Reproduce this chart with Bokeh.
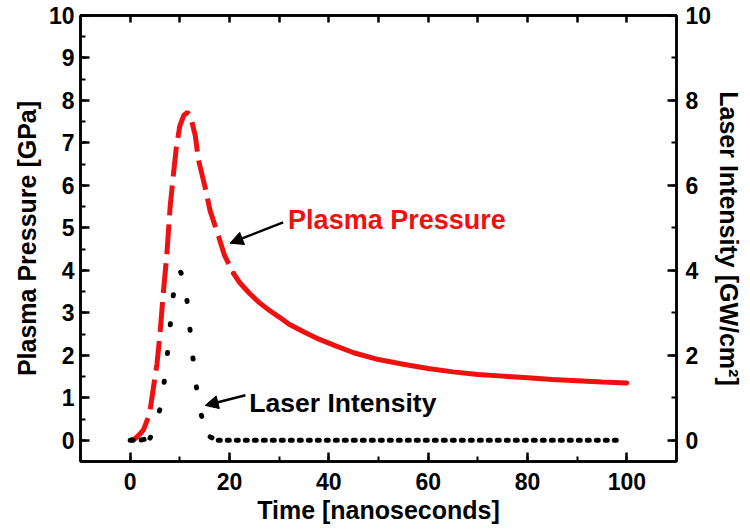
from bokeh.plotting import figure
from bokeh.models import LinearAxis, Range1d, Label, Arrow, NormalHead, SingleIntervalTicker, FixedTicker
from bokeh.embed import file_html
from bokeh.resources import INLINE

# ---- data ----
time_pressure = [0, 1, 2, 2.7, 3.5, 4, 4.7, 5.4, 6.0, 6.7, 7.4, 8.05, 8.7, 9.3, 10, 10.8, 11.6, 12.3,
                 13.1, 13.75, 15.1, 16.1, 17.8, 19, 20.8,
                 22, 24, 26, 28, 30, 32, 35, 38, 41, 45, 50, 55, 60, 65, 70, 75, 80, 85, 90, 95, 100]
pressure = [0, 0.04, 0.15, 0.25, 0.5, 0.7, 1.25, 1.8, 2.5, 3.5, 4.4, 5.5, 6.25, 6.9, 7.4, 7.65, 7.72, 7.55,
            7.18, 6.6, 5.95, 5.4, 4.8, 4.35, 3.93,
            3.72, 3.46, 3.24, 3.06, 2.9, 2.73, 2.55, 2.38, 2.24, 2.06, 1.9, 1.79, 1.69, 1.61, 1.55, 1.51,
            1.47, 1.43, 1.40, 1.37, 1.35]

time_laser = [0, 2, 4, 4.7, 6.4, 7.0, 7.7, 8.25, 8.9, 9.4, 10.0, 10.6, 11.1, 11.75, 12.3, 13.0, 13.8, 14.1,
              15.0, 16.1, 17.4, 20, 98]
laser = [0, 0, 0.05, 0.2, 0.9, 1.53, 2.24, 2.94, 3.65, 3.92, 4.0, 3.85, 3.6, 3.0, 2.28, 1.57, 0.82, 0.67,
         0.35, 0.08, 0.0, 0, 0]

x_ticks_top = [0, 10, 20, 30, 40, 50, 60, 70, 80, 90, 100]

x_label = "Time [nanoseconds]"
y_label = "Plasma Pressure [GPa]"
y2_label = "Laser Intensity [GW/cm²]"

FONT = "Liberation Sans"
RED = "#f01010"

p = figure(width=750, height=529, x_range=Range1d(-10, 110), y_range=Range1d(-0.5, 10),
           output_backend="svg", toolbar_location=None,
           min_border_left=80, min_border_right=74, min_border_top=15, min_border_bottom=68)
p.grid.visible = False
p.outline_line_color = "black"
p.outline_line_width = 2.5
p.background_fill_color = "white"
p.border_fill_color = "white"
p.extra_y_ranges = {"laser": Range1d(-0.5, 10)}

# pressure: dashed rise/peak, solid decay
split = time_pressure.index(20.8)
p.line(time_pressure[:split + 1], pressure[:split + 1], line_color=RED, line_width=5,
       line_dash="30 9", line_cap="butt")
p.line(time_pressure[split:], pressure[split:], line_color=RED, line_width=5, line_cap="round")

# laser: dotted
a = time_laser.index(4)
b = time_laser.index(16.1)
p.line(time_laser[:a + 1], laser[:a + 1], y_range_name="laser", line_color="black", line_width=5,
       line_dash="3 8", line_cap="round")
p.line(time_laser[a:b + 1], laser[a:b + 1], y_range_name="laser", line_color="black", line_width=5,
       line_dash="1 28", line_cap="round")
p.line(time_laser[b:], laser[b:], y_range_name="laser", line_color="black", line_width=5,
       line_dash="2 7", line_cap="round")


def style_axis(ax, label_size="23px"):
    ax.axis_line_width = 2.5
    ax.major_tick_line_width = 2.5
    ax.minor_tick_line_width = 2
    ax.major_tick_in = 9
    ax.major_tick_out = 0
    ax.minor_tick_in = 5
    ax.minor_tick_out = 0
    ax.major_label_text_font = FONT
    ax.major_label_text_font_style = "bold"
    ax.major_label_text_font_size = label_size
    ax.major_label_text_color = "black"
    ax.axis_label_text_font = FONT
    ax.axis_label_text_font_style = "bold"
    ax.axis_label_text_font_size = "25px"
    ax.axis_label_text_color = "black"


xa = p.xaxis[0]
xa.ticker = SingleIntervalTicker(interval=20, num_minor_ticks=2)
xa.axis_label = x_label
style_axis(xa)
xa.major_label_standoff = 11
xa.axis_label_standoff = 3

ya = p.yaxis[0]
ya.ticker = SingleIntervalTicker(interval=1, num_minor_ticks=2)
ya.axis_label = y_label
style_axis(ya)
ya.major_label_standoff = 6
ya.axis_label_standoff = 5

ry = LinearAxis(y_range_name="laser", ticker=SingleIntervalTicker(interval=2, num_minor_ticks=2),
                axis_label=y2_label)
style_axis(ry)
ry.major_label_standoff = 9
ry.axis_label_standoff = 1
p.add_layout(ry, "right")

# top mirror axis: unlabelled tick marks only
top = LinearAxis(ticker=FixedTicker(ticks=[], minor_ticks=x_ticks_top))
style_axis(top)
top.minor_tick_in = 7
top.minor_tick_line_width = 2.5
p.add_layout(top, "above")

# annotations
p.add_layout(Label(x=31.8, y=5.18, text="Plasma Pressure", text_color=RED, text_font=FONT,
                   text_font_style="bold", text_font_size="27px", text_baseline="alphabetic"))
p.add_layout(Arrow(x_start=30.8, y_start=5.13, x_end=20.1, y_end=4.64, line_width=2.5, line_color="black",
                   end=NormalHead(size=13, fill_color="black", line_color="black")))
p.add_layout(Label(x=24.0, y=0.87, text="Laser Intensity", text_color="black", text_font=FONT,
                   text_font_style="bold", text_font_size="26.5px", text_baseline="alphabetic"))
p.add_layout(Arrow(x_start=23.2, y_start=1.06, x_end=15.1, y_end=0.82, line_width=2.5, line_color="black",
                   end=NormalHead(size=13, fill_color="black", line_color="black")))

open("out.html", "w").write(file_html(p, INLINE))
